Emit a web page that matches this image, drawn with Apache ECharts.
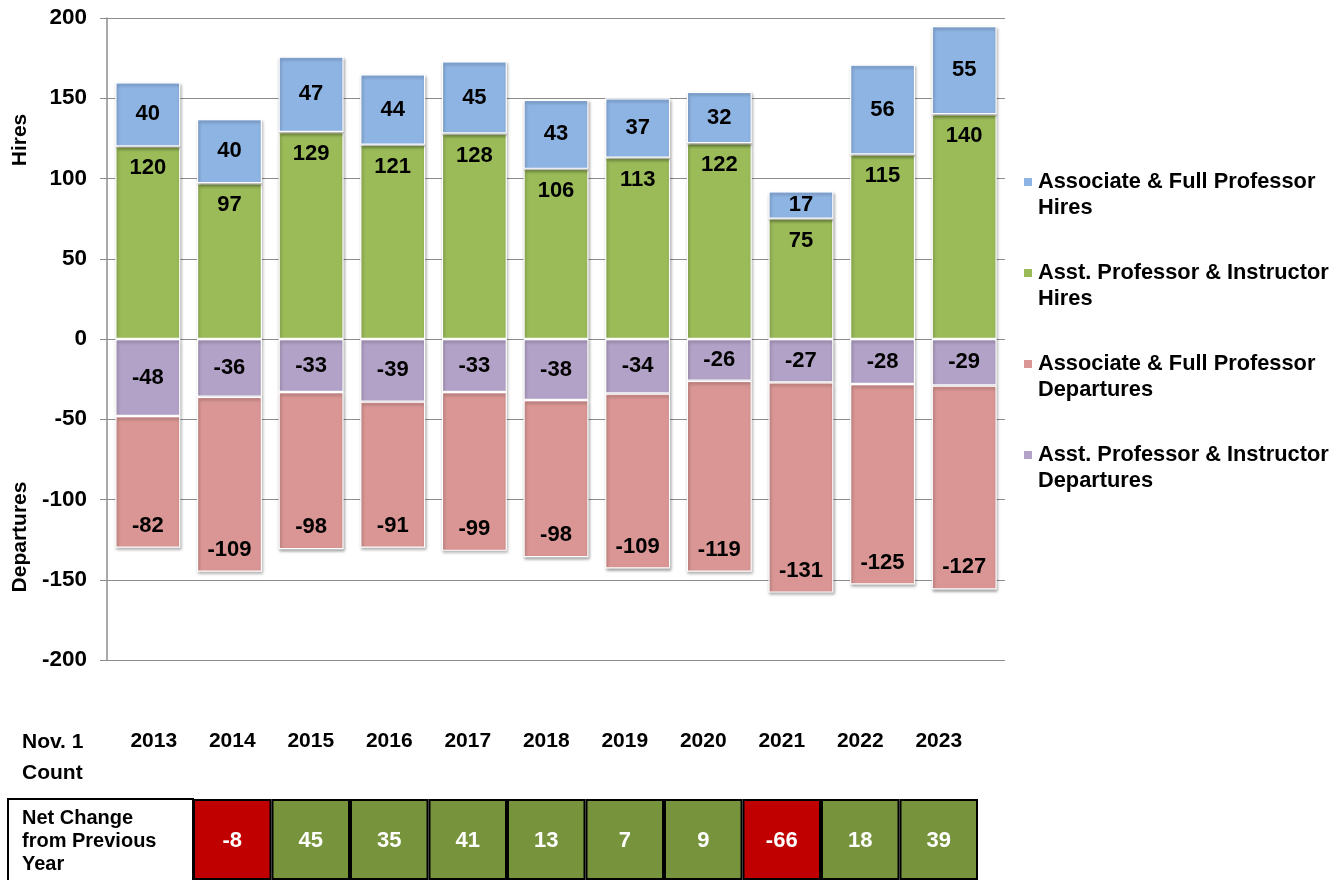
<!DOCTYPE html>
<html>
<head>
<meta charset="utf-8">
<script src="https://cdn.jsdelivr.net/npm/echarts@6/dist/echarts.min.js"></script>
<style>
  html, body { margin: 0; padding: 0; background: #fff; }
  #chart { width: 1343px; height: 880px; }
</style>
</head>
<body>
<div id="chart"></div>
<script>
const years = ['2013', '2014', '2015', '2016', '2017', '2018', '2019', '2020', '2021', '2022', '2023']
const assocHires = [40, 40, 47, 44, 45, 43, 37, 32, 17, 56, 55]
const asstHires = [120, 97, 129, 121, 128, 106, 113, 122, 75, 115, 140]
const asstDepartures = [-48, -36, -33, -39, -33, -38, -34, -26, -27, -28, -29]
const assocDepartures = [-82, -109, -98, -91, -99, -98, -109, -119, -131, -125, -127]
// net change row starts at 2014 (no value for 2013)
const netChange = [null, -8, 45, 35, 41, 13, 7, 9, -66, 18, 39]

const FONT = 'Liberation Sans, Arial, sans-serif'
const names = {
  assocHires: 'Associate & Full Professor\nHires',
  asstHires: 'Asst. Professor & Instructor\nHires',
  assocDep: 'Associate & Full Professor\nDepartures',
  asstDep: 'Asst. Professor & Instructor\nDepartures'
}

const barLabel = (position, distance) => ({
  show: true,
  position: position,
  distance: distance,
  color: '#000',
  fontFamily: FONT,
  fontWeight: 'bold',
  fontSize: 22
})

const barStyle = (color) => ({
  color: color,
  borderColor: '#fff',
  borderWidth: 1.2,
  shadowColor: 'rgba(0,0,0,0.35)',
  shadowBlur: 3,
  shadowOffsetX: 1,
  shadowOffsetY: 2
})

const chart = echarts.init(document.getElementById('chart'))
chart.setOption({
  animation: false,
  backgroundColor: '#fff',
  textStyle: { fontFamily: FONT },
  legend: {
    orient: 'vertical',
    left: 1017,
    top: 138,
    itemGap: 13,
    itemWidth: 10,
    itemHeight: 10,
    icon: 'rect',
    data: [names.assocHires, names.asstHires, names.assocDep, names.asstDep],
    // leading blank line keeps the marker level with the first text line
    formatter: name => '\n' + name,
    textStyle: {
      fontFamily: FONT,
      fontWeight: 'bold',
      fontSize: 21.8,
      color: '#000',
      lineHeight: 26
    }
  },
  grid: [
    { left: 107, right: 338, top: 18, height: 642 },
    { left: 114.5, right: 365, top: 799, height: 100 }
  ],
  xAxis: [
    {
      gridIndex: 0,
      type: 'category',
      data: years,
      axisLine: { show: false },
      axisTick: { show: false },
      axisLabel: { show: false }
    },
    {
      gridIndex: 1,
      type: 'category',
      data: years,
      position: 'top',
      axisLine: { show: false },
      axisTick: { show: false },
      axisLabel: {
        margin: 47,
        color: '#000',
        fontFamily: FONT,
        fontWeight: 'bold',
        fontSize: 21
      }
    }
  ],
  yAxis: [
    {
      gridIndex: 0,
      type: 'value',
      min: -200,
      max: 200,
      interval: 50,
      axisLine: { show: true, lineStyle: { color: '#8c8c8c', width: 1.5 } },
      axisTick: { show: true, length: 7, lineStyle: { color: '#8c8c8c' } },
      axisLabel: {
        margin: 20,
        color: '#000',
        fontFamily: FONT,
        fontWeight: 'bold',
        fontSize: 22.5
      },
      splitLine: { lineStyle: { color: '#8c8c8c', width: 1 } }
    },
    {
      gridIndex: 1,
      type: 'value',
      min: 0,
      max: 1,
      show: false
    }
  ],
  series: [
    {
      name: names.asstHires,
      type: 'bar',
      stack: 'total',
      barWidth: 65,
      data: asstHires,
      itemStyle: barStyle('#9BBB59'),
      label: barLabel('insideTop', 11)
    },
    {
      name: names.assocHires,
      type: 'bar',
      stack: 'total',
      data: assocHires,
      itemStyle: barStyle('#8EB4E3'),
      label: barLabel('inside', 0)
    },
    {
      name: names.asstDep,
      type: 'bar',
      stack: 'total',
      data: asstDepartures,
      itemStyle: barStyle('#B3A2C7'),
      label: barLabel('inside', 0)
    },
    {
      name: names.assocDep,
      type: 'bar',
      stack: 'total',
      data: assocDepartures,
      itemStyle: barStyle('#D99694'),
      label: barLabel('insideBottom', 11)
    },
    {
      type: 'bar',
      xAxisIndex: 1,
      yAxisIndex: 1,
      barWidth: '100%',
      silent: true,
      data: netChange.map(v => v === null ? '-' : {
        value: 1,
        net: v,
        itemStyle: { color: v < 0 ? '#C00000' : '#77933C' }
      }),
      itemStyle: { borderColor: '#000', borderWidth: 2 },
      label: {
        show: true,
        position: 'insideTop',
        distance: 31,
        color: '#fff',
        fontFamily: FONT,
        fontWeight: 'bold',
        fontSize: 22,
        formatter: p => String(p.data.net)
      }
    }
  ],
  graphic: [
    {
      type: 'text',
      x: 20, y: 140,
      rotation: Math.PI / 2,
      style: {
        text: 'Hires',
        fill: '#000',
        font: 'bold 21px ' + FONT,
        align: 'center',
        verticalAlign: 'middle'
      }
    },
    {
      type: 'text',
      x: 20, y: 537,
      rotation: Math.PI / 2,
      style: {
        text: 'Departures',
        fill: '#000',
        font: 'bold 21px ' + FONT,
        align: 'center',
        verticalAlign: 'middle'
      }
    },
    {
      type: 'text',
      left: 22, top: 727,
      style: {
        text: 'Nov. 1\nCount',
        fill: '#000',
        font: 'bold 21px ' + FONT,
        lineHeight: 31
      }
    },
    {
      type: 'rect',
      shape: { x: 8, y: 799, width: 185, height: 100 },
      style: { fill: '#fff', stroke: '#000', lineWidth: 2 }
    },
    {
      type: 'text',
      left: 22, top: 807,
      style: {
        text: 'Net Change\nfrom Previous\nYear',
        fill: '#000',
        font: 'bold 20px ' + FONT,
        lineHeight: 23
      }
    }
  ]
})
</script>
</body>
</html>
